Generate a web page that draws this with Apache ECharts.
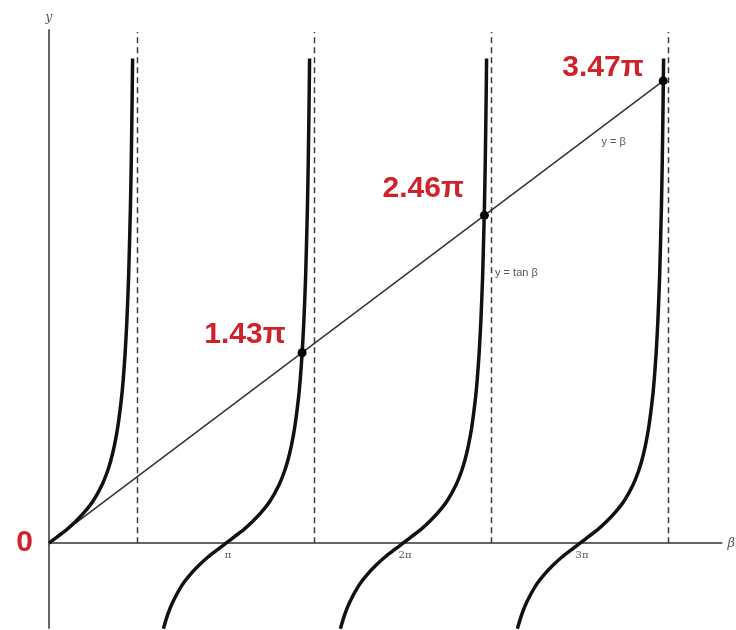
<!DOCTYPE html>
<html>
<head>
<meta charset="utf-8">
<script src="https://cdn.jsdelivr.net/npm/echarts@6/dist/echarts.min.js"></script>
<style>
html,body{margin:0;padding:0;background:#fff;}
#chart{width:736px;height:630px;}
</style>
</head>
<body>
<div id="chart"></div>
<script>
// x values are in multiples of pi, y values are plain numbers
var xTickValues = [1, 2, 3];
var xTickLabels = ['\u03c0', '2\u03c0', '3\u03c0'];
var yTickLabel0 = '0';
var asymptotes = [0.5, 1.5, 2.5, 3.5];
var asymptoteTop = 12.05;

var tan0 = [[0,0],[0.05,0.16],[0.1,0.32],[0.15,0.51],[0.2,0.73],[0.25,1.00],[0.3,1.38],[0.33,1.69],[0.35,1.96],[0.37,2.31],[0.39,2.78],[0.41,3.44],[0.42,3.89],[0.43,4.47],[0.44,5.24],[0.45,6.31],[0.46,7.92],[0.465,9.06],[0.47,10.58],[0.4722,11.43]];
var tan1 = [[0.646,-2.02],[0.67,-1.69],[0.7,-1.38],[0.75,-1.00],[0.8,-0.73],[0.85,-0.51],[0.9,-0.32],[0.95,-0.16],[1,0],[1.05,0.16],[1.1,0.32],[1.15,0.51],[1.2,0.73],[1.25,1.00],[1.3,1.38],[1.33,1.69],[1.35,1.96],[1.37,2.31],[1.39,2.78],[1.41,3.44],[1.42,3.89],[1.43,4.47],[1.44,5.24],[1.45,6.31],[1.46,7.92],[1.465,9.06],[1.47,10.58],[1.4722,11.43]];
var tan2 = [[1.646,-2.02],[1.67,-1.69],[1.7,-1.38],[1.75,-1.00],[1.8,-0.73],[1.85,-0.51],[1.9,-0.32],[1.95,-0.16],[2,0],[2.05,0.16],[2.1,0.32],[2.15,0.51],[2.2,0.73],[2.25,1.00],[2.3,1.38],[2.33,1.69],[2.35,1.96],[2.37,2.31],[2.39,2.78],[2.41,3.44],[2.42,3.89],[2.43,4.47],[2.44,5.24],[2.45,6.31],[2.46,7.92],[2.465,9.06],[2.47,10.58],[2.4722,11.43]];
var tan3 = [[2.646,-2.02],[2.67,-1.69],[2.7,-1.38],[2.75,-1.00],[2.8,-0.73],[2.85,-0.51],[2.9,-0.32],[2.95,-0.16],[3,0],[3.05,0.16],[3.1,0.32],[3.15,0.51],[3.2,0.73],[3.25,1.00],[3.3,1.38],[3.33,1.69],[3.35,1.96],[3.37,2.31],[3.39,2.78],[3.41,3.44],[3.42,3.89],[3.43,4.47],[3.44,5.24],[3.45,6.31],[3.46,7.92],[3.465,9.06],[3.47,10.58],[3.4722,11.43]];

var lineBeta = [[0,0],[3.47,10.90]];
var rootX = [1.43, 2.46, 3.47];
var rootY = [4.49, 7.73, 10.90];
var rootLabels = ['1.43\u03c0', '2.46\u03c0', '3.47\u03c0'];

var RED = '#d0222c';
var chart = echarts.init(document.getElementById('chart'), null, {renderer:'canvas'});

var series = [];
asymptotes.forEach(function(a){
  series.push({
    type:'line', data:[[a,0],[a,asymptoteTop]], symbol:'none', silent:true,
    lineStyle:{color:'#3a3a3a', width:1.5, type:[6,4]}, z:1
  });
});
series.push({
  type:'line', data:lineBeta, symbol:'none', silent:true,
  lineStyle:{color:'#333', width:1.5}, z:2,
  markPoint:{
    symbol:'circle', symbolSize:0,
    data:[{coord:[3.19,9.45], value:'y = \u03b2'}],
    label:{show:true, formatter:'y = \u03b2', color:'#555', fontSize:11, fontFamily:'Liberation Sans', fontStyle:'normal'}
  }
});
[tan0, tan1, tan2, tan3].forEach(function(d, i){
  var s = {
    type:'line', data:d, symbol:'none', silent:true, smooth:0.2,
    lineStyle:{color:'#111', width:3.5}, z:3
  };
  if (i === 2) {
    s.markPoint = {
      symbol:'circle', symbolSize:0,
      data:[{coord:[2.52,6.37]}],
      label:{show:true, position:'right', distance:0, formatter:'y = tan \u03b2', color:'#555', fontSize:11, fontFamily:'Liberation Sans'}
    };
  }
  series.push(s);
});
var labelOffsets = [[-7,-18],[-11,-27],[-10,-13]];
series.push({
  type:'scatter', symbol:'circle', symbolSize:9, z:5,
  itemStyle:{color:'#000', opacity:1},
  data: rootX.map(function(x, i){
    return {value:[x, rootY[i]], label:{show:true, position:'left', offset:labelOffsets[i],
      formatter: rootLabels[i], color:RED, fontSize:30, fontWeight:'bold', fontFamily:'Liberation Sans'}};
  })
});
// x tick labels (pi multiples) drawn at the zero line
series.push({
  type:'scatter', symbol:'circle', symbolSize:0, z:4, silent:true,
  itemStyle:{opacity:1},
  data: xTickValues.map(function(x, i){
    return {value:[x, 0], label:{show:true, position:'bottom', distance:7, offset:[2,0],
      formatter: xTickLabels[i], color:'#555', fontSize:10, fontFamily:'DejaVu Serif'}};
  })
});

chart.setOption({
  animation:false,
  backgroundColor:'#fff',
  grid:{left:49, top:30, width:672.6, height:598, outerBoundsMode:'none', containLabel:false},
  xAxis:{
    type:'value', min:0, max:3.8, interval:1,
    name:'\u03b2', nameLocation:'end', nameGap:6,
    nameTextStyle:{color:'#555', fontSize:13, fontStyle:'italic', fontFamily:'DejaVu Serif', verticalAlign:'middle', padding:[4,0,0,0]},
    axisLine:{show:true, onZero:true, lineStyle:{color:'#666', width:2}},
    axisTick:{show:false},
    splitLine:{show:false},
    axisLabel:{show:false}
  },
  yAxis:{
    type:'value', min:-2, max:12.1, interval:1,
    name:'y', nameLocation:'end', nameGap:6,
    nameTextStyle:{color:'#555', fontSize:12, fontStyle:'italic', fontFamily:'DejaVu Serif', align:'center'},
    axisLine:{show:true, lineStyle:{color:'#666', width:2}},
    axisTick:{show:false},
    splitLine:{show:false},
    axisLabel:{margin:16, color:RED, fontSize:30, fontWeight:'bold', fontFamily:'Liberation Sans',
      formatter:function(v){ return Math.abs(v)<1e-6 ? yTickLabel0 : ''; }}
  },
  series:series
});
</script>
</body>
</html>
